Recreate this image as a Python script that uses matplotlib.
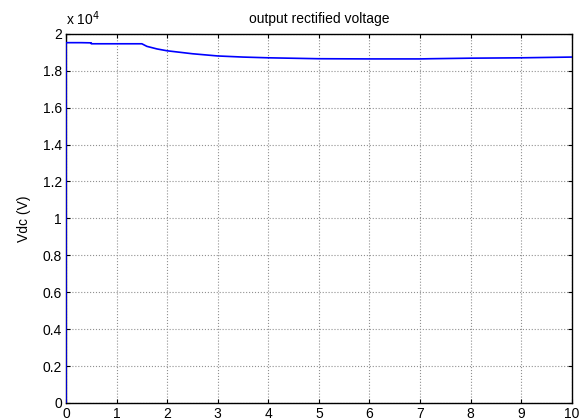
import matplotlib
matplotlib.use('Agg')
import matplotlib.pyplot as plt
from matplotlib.ticker import FuncFormatter, MultipleLocator

plt.rcParams['font.family'] = ['Liberation Sans', 'DejaVu Sans']

# time (s) and rectified voltage (V)
t = [0, 0, 0.3, 0.5, 0.5, 1.0, 1.5, 1.6, 1.8, 2.0, 2.5, 3.0, 3.5, 4.0, 5.0, 6.0, 7.0, 7.2, 8.0, 9.0, 9.5, 10.0]
vdc = [0, 19520, 19520, 19510, 19460, 19460, 19460, 19320, 19180, 19080, 18920, 18800, 18740, 18700,
       18650, 18640, 18640, 18650, 18680, 18700, 18720, 18740]

fig = plt.figure(figsize=(5.84, 4.2), dpi=100, facecolor='white')
ax = fig.add_axes([0.113, 0.0405, 0.866, 0.879])

ax.plot(t, vdc, color='#0000ff', linewidth=1.2, zorder=3)

ax.set_xlim(0, 10)
ax.set_ylim(0, 20000)
ax.xaxis.set_major_locator(MultipleLocator(1))
ax.yaxis.set_major_locator(MultipleLocator(2000))
ax.yaxis.set_major_formatter(FuncFormatter(lambda v, p: '%g' % round(v / 1e4, 2)))

ax.grid(True, color='#909090', linestyle=':', linewidth=0.8)
ax.tick_params(direction='in', top=True, right=True, labelsize=10, length=3, pad=3)
for s in ax.spines.values():
    s.set_linewidth(1.0)

ax.set_title('output rectified voltage', fontsize=10, pad=8)
ax.set_ylabel('Vdc (V)', fontsize=10, labelpad=8)
ax.text(0.0, 1.015, r'x 10$^4$', transform=ax.transAxes, fontsize=10, ha='left', va='bottom')

fig.savefig('out.png', dpi=100)
